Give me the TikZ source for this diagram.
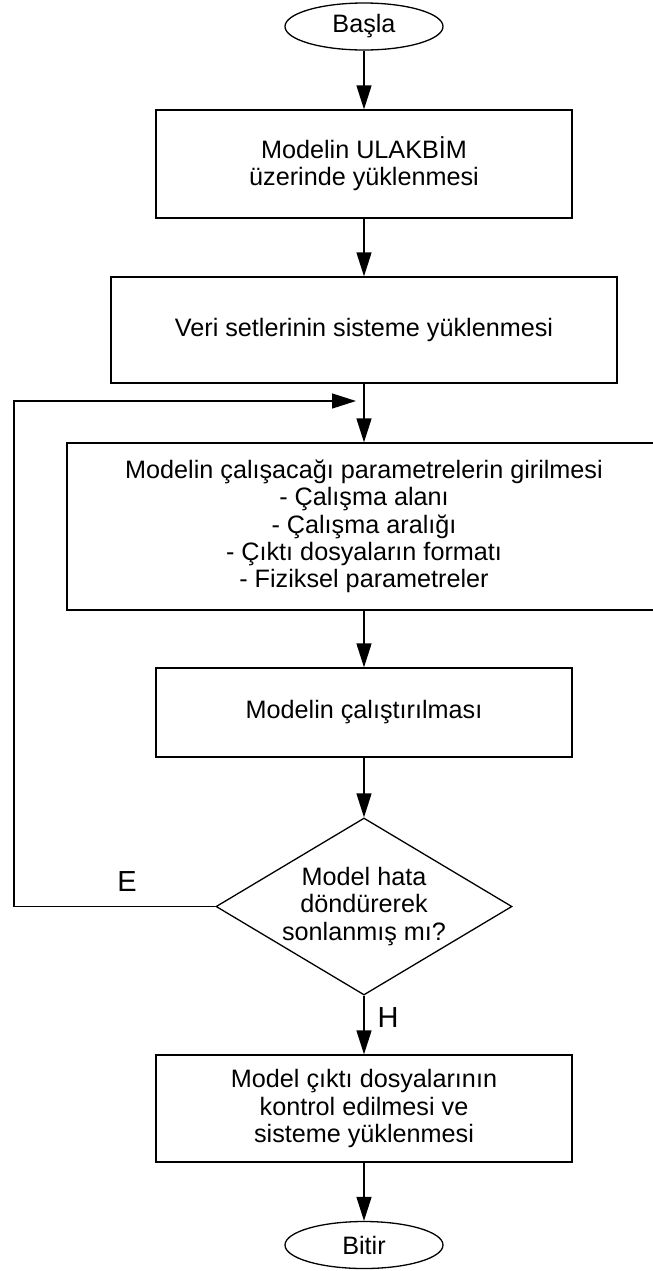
\documentclass[tikz,border=0pt]{standalone}
\usepackage{fontspec}
\setmainfont{Liberation Sans}
\usepackage{tikz}
\usetikzlibrary{shapes.geometric,arrows.meta}

\begin{document}
\begin{tikzpicture}[%
  x=0.5pt, y=-0.5pt,
  font=\fontsize{12.6}{13.6}\selectfont,
  line width=0.65pt,
  >={Triangle[length=12pt,width=7.5pt]},
  terminal/.style={ellipse, draw, minimum width=79pt, minimum height=23.5pt, inner sep=0pt},
  process/.style={rectangle, draw, align=center, inner sep=0pt},
  decision/.style={diamond, draw, align=center, aspect=1.67, inner sep=0pt,
    minimum width=148pt, minimum height=88.5pt},
  answer/.style={font=\fontsize{14.5}{16}\selectfont}]
  \useasboundingbox (0,0) rectangle (653,1271);

  \node[terminal] (basla) at (364,26.5) {Başla};
  \node[process, minimum width=208pt, minimum height=54pt] (ulakbim) at (364,164)
    {Modelin ULAKBİM\\üzerinde yüklenmesi};
  \node[process, minimum width=253pt, minimum height=53pt] (veri) at (364,330)
    {Veri setlerinin sisteme yüklenmesi};
  \node[process, minimum width=297pt, minimum height=83.5pt] (parametre) at (364,526.5)
    {Modelin çalışacağı parametrelerin girilmesi\\- Çalışma alanı\\- Çalışma aralığı\\
     - Çıktı dosyaların formatı\\- Fiziksel parametreler};
  \node[process, minimum width=208pt, minimum height=44.5pt] (calistir) at (364,712.5)
    {Modelin çalıştırılması};
  \node[decision] (hata) at (364,906.5) {Model hata\\döndürerek\\sonlanmış mı?};
  \node[process, minimum width=208pt, minimum height=53.5pt] (kontrol) at (364,1108.5)
    {Model çıktı dosyalarının\\kontrol edilmesi ve\\sisteme yüklenmesi};
  \node[terminal] (bitir) at (364,1245) {Bitir};

  \node[answer] (evet) at (127,882) {E};
  \node[answer] (hayir) at (388,1018) {H};

  \coordinate (kose) at (14,401);
  \coordinate (donus) at (356,401);

  \draw[->] (basla) -- (ulakbim);
  \draw[->] (ulakbim) -- (veri);
  \draw[->] (veri) -- (parametre);
  \draw[->] (parametre) -- (calistir);
  \draw[->] (calistir) -- (hata);
  \draw[->] (hata) -- (kontrol);
  \draw[->] (kontrol) -- (bitir);
  \draw[->] (hata.west) -| (kose) -- (donus);

\end{tikzpicture}
\end{document}
